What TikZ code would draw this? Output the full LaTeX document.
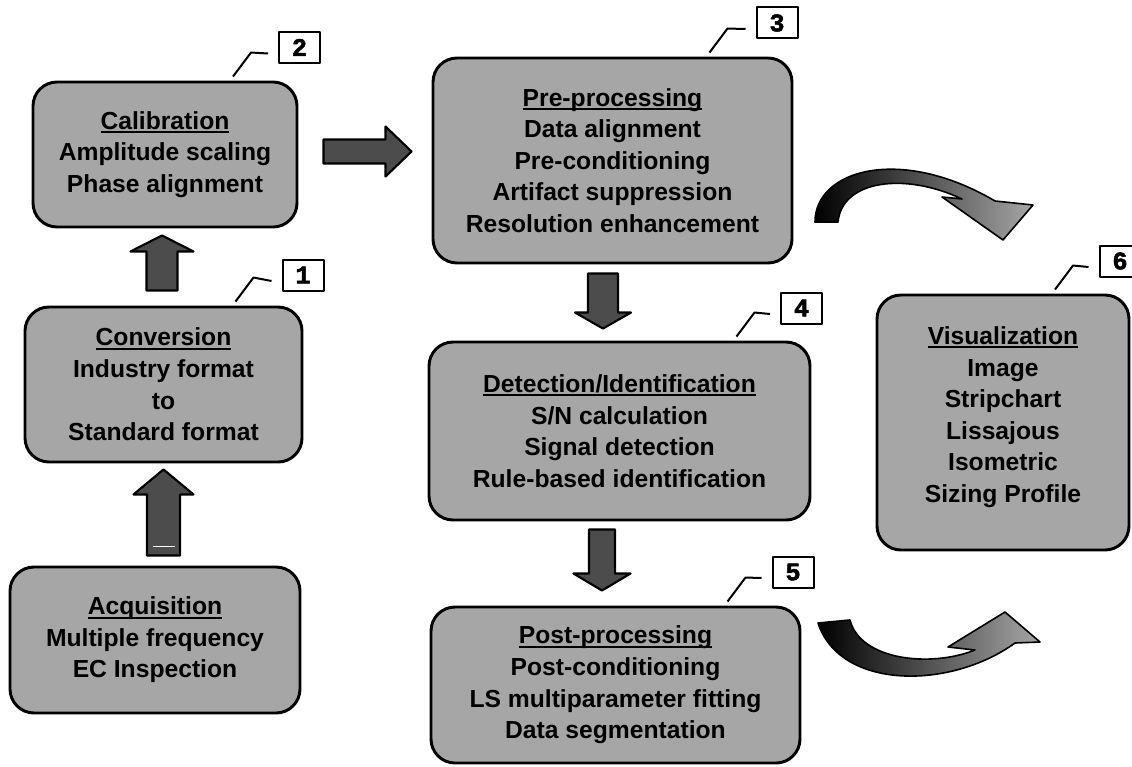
\documentclass[tikz,border=0pt]{standalone}
\usepackage{fontspec}
\setmainfont{Liberation Sans}
\newfontfamily\tagfont{Liberation Mono}[BoldFeatures={FakeBold=2}]
\usetikzlibrary{calc, positioning}
\tikzset{
  % thick outlines, as in the scanned flow chart
  every picture/.append style = {line join=round},
  stage/.style    = {draw=black, line width=2.2pt, fill=black!35, rounded corners=18pt,
                     align=center, inner sep=0pt,
                     font=\fontsize{18.5}{23.7}\selectfont\bfseries},
  tag/.style      = {draw=black, line width=1.5pt, fill=white, inner sep=0pt,
                     minimum width=30.75pt, minimum height=23.25pt,
                     font=\tagfont\bfseries\fontsize{19}{19}\selectfont},
  leader/.style   = {line width=1.5pt},
  blockarr/.style = {draw=black, line width=1.6pt, fill=black!70},
  bendarr/.style  = {draw=black, line width=1.2pt, left color=black, middle color=black!85,
                     right color=black!35},
}
% underlined stage title
\newsavebox{\ttlbox}
\newcommand{\ttl}[1]{\sbox{\ttlbox}{#1}\usebox{\ttlbox}\llap{\rule[-2.8pt]{\wd\ttlbox}{1.4pt}}}
% block arrow: tail, tip, shaft half width, head half width, head length
\newcommand{\blockarrow}[5]{%
  \coordinate (ba) at ($(#2)!#5!(#1)$);
  \draw[blockarr] ($(#1)!#3!90:(#2)$) -- ($(ba)!#3!90:(#2)$) -- ($(ba)!#4!90:(#2)$) -- (#2)
    -- ($(ba)!#4!-90:(#2)$) -- ($(ba)!#3!-90:(#2)$) -- ($(#1)!#3!-90:(#2)$) -- cycle;
}

\begin{document}
\begin{tikzpicture}[x=0.75pt, y=-0.75pt]
  \useasboundingbox (0,0) rectangle (1132,767);
  % --- stages --------------------------------------------------------------
  \node[stage, minimum width=217.5pt, minimum height=109.5pt] (acq) at (155,640)
    {\ttl{Acquisition}\\Multiple frequency\\EC Inspection};
  \node[stage, minimum width=207.75pt, minimum height=116.25pt] (conv) at (163.5,384.5)
    {\ttl{Conversion}\\Industry format\\to\\Standard format};
  \node[stage, minimum width=198pt, minimum height=108.75pt] (calib) at (165,154.5)
    {\ttl{Calibration}\\Amplitude scaling\\Phase alignment};
  \node[stage, minimum width=269.25pt, minimum height=153.75pt] (pre) at (612.5,160.5)
    {\ttl{Pre-processing}\\Data alignment\\Pre-conditioning\\Artifact suppression\\Resolution enhancement};
  \node[stage, minimum width=285.75pt, minimum height=133.5pt] (det) at (619.5,431)
    {\ttl{Detection/Identification}\\S/N calculation\\Signal detection\\Rule-based identification};
  \node[stage, minimum width=276.75pt, minimum height=117pt] (post) at (615.5,685)
    {\ttl{Post-processing}\\Post-conditioning\\LS multiparameter fitting\\Data segmentation};
  \node[stage, minimum width=189pt, minimum height=191.25pt] (vis) at (1003,422.5)
    {\ttl{Visualization}\\Image\\Stripchart\\Lissajous\\Isometric\\Sizing Profile\rule[-12pt]{0pt}{0pt}};
  % --- reference numbers -----------------------------------------------------
  \node[tag] (t1) at (303,275) {1};
  \node[tag] (t2) at (299.5,47.5) {2};
  \node[tag] (t3) at (777,23) {3};
  \node[tag] (t4) at (801.5,308) {4};
  \node[tag] (t5) at (793,572) {5};
  \node[tag] (t6) at (1120,261) {6};
  \foreach \b/\t/\dx in {conv/t1/72, calib/t2/68, pre/t3/97, det/t4/117, post/t5/112, vis/t6/52}
    \draw[leader] ($(\b.north)+(\dx,-4)$) -- ++(18,-24) -- ($(\t.west)+(-10,6)$);
  % --- straight arrows -------------------------------------------------------
  \coordinate (a1s) at ($(conv.south |- acq.north)+(0,-10)$);
  \coordinate (a1e) at ($(conv.south)+(0,6)$);
  \blockarrow{a1s}{a1e}{12.4pt}{22.5pt}{18.75pt}
  \draw[white, line width=1.2pt] ($(a1s)+(-11,-9)$) -- ($(a1s)+(11,-9)$);
  \coordinate (a2s) at ($(calib.south |- conv.north)+(-3,-15)$);
  \coordinate (a2e) at ($(calib.south)+(-3,7)$);
  \blockarrow{a2s}{a2e}{11.6pt}{23.6pt}{12pt}
  \coordinate (a3s) at ($(calib.east)+(25,-3)$);
  \coordinate (a3e) at ($(pre.west |- a3s)+(-20,0)$);
  \blockarrow{a3s}{a3e}{9pt}{18.75pt}{19.5pt}
  \coordinate (a4s) at ($(pre.south)+(-9.5,9)$);
  \coordinate (a4e) at ($(det.north)+(-16.5,-12)$);
  \blockarrow{a4s}{a4e}{11.25pt}{21pt}{12pt}
  \coordinate (a5s) at ($(det.south)+(-17.5,8)$);
  \coordinate (a5e) at ($(post.north)+(-13.5,-15)$);
  \blockarrow{a5s}{a5e}{9.75pt}{21.4pt}{12.75pt}
  % --- curved arrows to visualization ----------------------------------------
  \shade[bendarr] (815,222) .. controls (815,170) and (900,145) .. (995,201)
    -- (1033,205) -- (1003,240) -- (942,197) -- (962,199)
    .. controls (905,172) and (842,180) .. (838,222) -- cycle;
  \shade[bendarr] (818,623) .. controls (840,690) and (950,690) .. (1015,643)
    -- (1040,642) -- (1005,612) -- (948,647) -- (975,650)
    .. controls (930,668) and (860,660) .. (850,620) -- cycle;
\end{tikzpicture}
\end{document}
